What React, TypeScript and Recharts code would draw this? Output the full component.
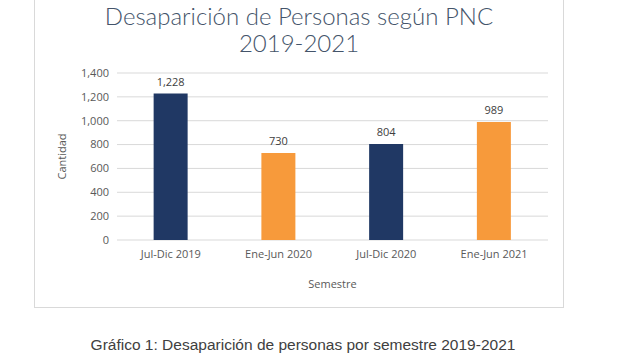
import { BarChart, Bar, XAxis, YAxis, CartesianGrid, Cell, LabelList } from "recharts";

const semestres = ["Jul-Dic 2019", "Ene-Jun 2020", "Jul-Dic 2020", "Ene-Jun 2021"];
const cantidades = [1228, 730, 804, 989];
const colores = ["#203864", "#f79a3b", "#203864", "#f79a3b"];
const yTicks = [0, 200, 400, 600, 800, 1000, 1200, 1400];

const data = semestres.map((s, i) => ({ semestre: s, cantidad: cantidades[i] }));

const fmt = (v: number) => v.toLocaleString("en-US");

export default function App() {
  return (
    <div style={{ position: "absolute", left: 0, top: 0, width: 627, height: 360, background: "#fff" }}>
      <div
        style={{
          position: "absolute",
          left: 34,
          top: -2,
          width: 530,
          height: 310,
          border: "1px solid #d9d9d9",
          boxSizing: "border-box",
        }}
      />
      <div
        style={{
          position: "absolute",
          left: 0,
          top: 2,
          width: 598,
          textAlign: "center",
          fontFamily: "Lato",
          fontWeight: 300,
          fontSize: 24,
          lineHeight: "27px",
          color: "#44546a",
        }}
      >
        Desaparición de Personas según PNC
        <br />
        2019-2021
      </div>
      <div style={{ position: "absolute", left: 0, top: 0 }}>
        <BarChart
          width={627}
          height={360}
          data={data}
          margin={{ top: 73, right: 79, bottom: 72, left: 57 }}
          barCategoryGap="34%"
        >
          <CartesianGrid vertical={false} stroke="#d9d9d9" />
          <XAxis
            dataKey="semestre"
            axisLine={false}
            tickLine={false}
            height={48}
            tickMargin={4}
            tick={{ fill: "#595959", fontSize: 11, fontFamily: "Open Sans" }}
            label={{
              value: "Semestre",
              position: "insideBottom",
              offset: 0,
              fill: "#595959",
              fontSize: 11,
              fontFamily: "Open Sans",
            }}
          />
          <YAxis
            width={60}
            domain={[0, 1400]}
            ticks={yTicks}
            axisLine={false}
            tickLine={false}
            tickFormatter={fmt}
            tick={{ fill: "#595959", fontSize: 11, fontFamily: "Open Sans" }}
            label={{
              value: "Cantidad",
              angle: -90,
              position: "insideLeft",
              offset: 5,
              fill: "#595959",
              fontSize: 11,
              fontFamily: "Open Sans",
              style: { textAnchor: "middle" },
            }}
          />
          <Bar dataKey="cantidad" isAnimationActive={false}>
            {data.map((d, i) => (
              <Cell key={d.semestre} fill={colores[i]} />
            ))}
            <LabelList
              dataKey="cantidad"
              position="top"
              offset={8}
              formatter={(v: any) => fmt(Number(v))}
              style={{ fill: "#404040", fontSize: 11, fontFamily: "Open Sans" }}
            />
          </Bar>
        </BarChart>
      </div>
      <div
        style={{
          position: "absolute",
          left: 0,
          top: 336,
          width: 606,
          textAlign: "center",
          fontFamily: "Liberation Sans",
          fontSize: 15.5,
          color: "#404040",
        }}
      >
        Gráfico 1: Desaparición de personas por semestre 2019-2021
      </div>
    </div>
  );
}
